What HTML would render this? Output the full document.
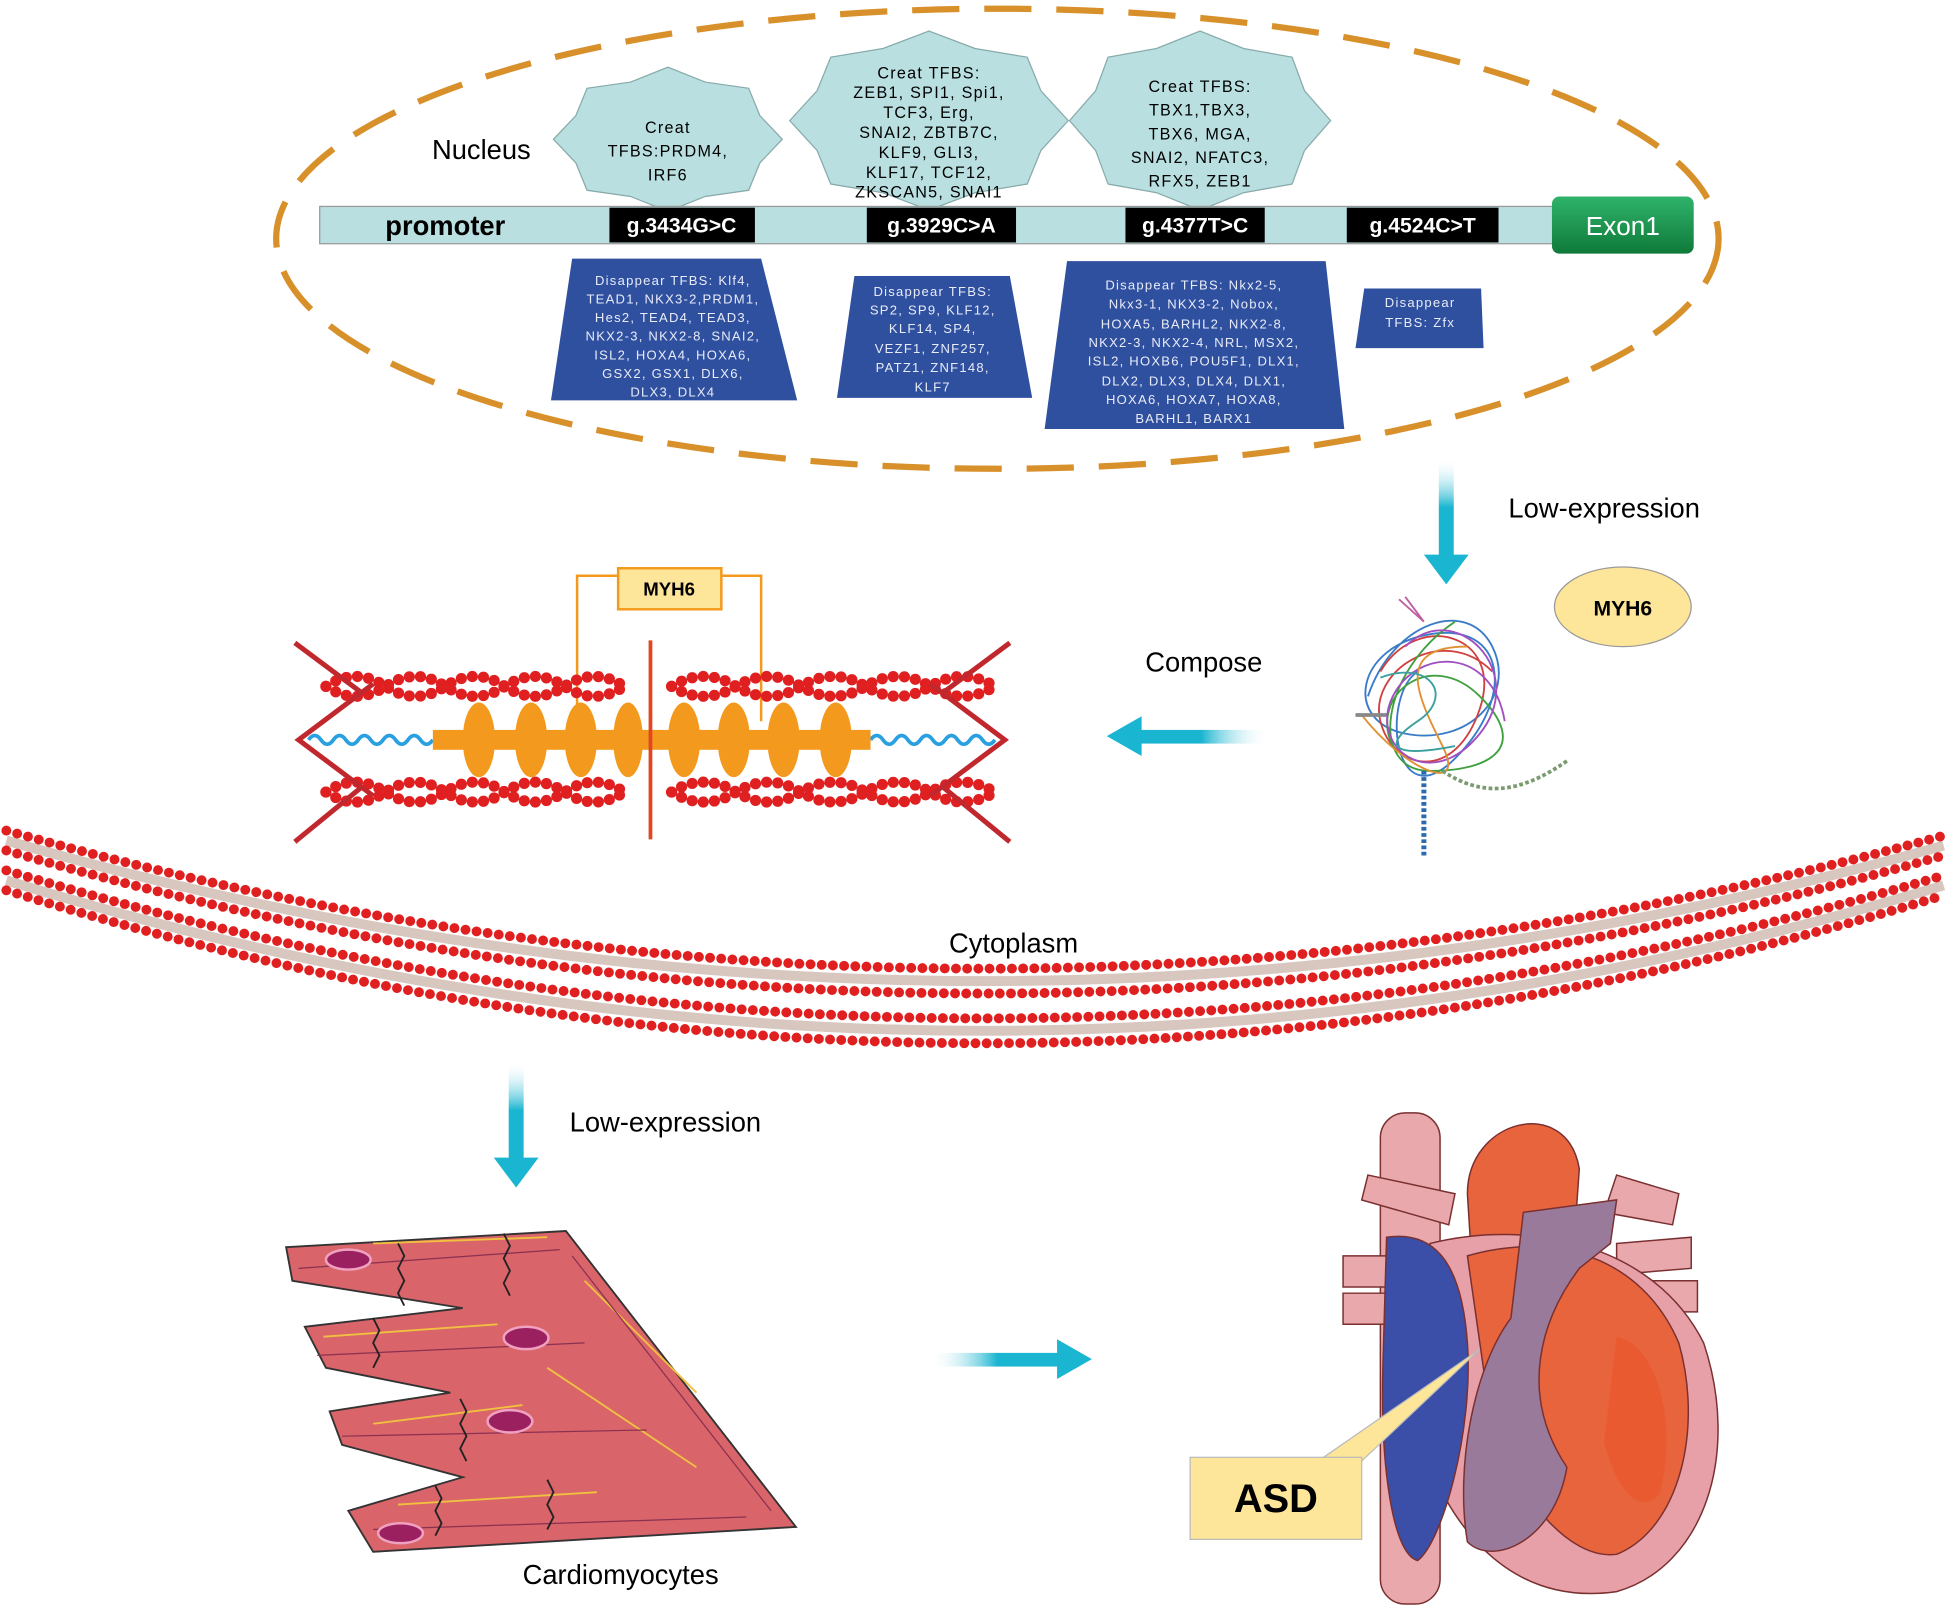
<!DOCTYPE html>
<html><head><meta charset="utf-8"><style>
html,body{margin:0;padding:0;background:#fff;}
svg{display:block;}
text{font-family:"Liberation Sans",Arial,sans-serif;}
</style></head><body>
<svg width="1950" height="1614" viewBox="0 0 1568 1298" xmlns="http://www.w3.org/2000/svg">
<defs>
<linearGradient id="gv" x1="0" y1="0" x2="0" y2="1"><stop offset="0" stop-color="#fff" stop-opacity="0"/><stop offset=".5" stop-color="#1ab5d0"/><stop offset="1" stop-color="#1ab5d0"/></linearGradient>
<linearGradient id="gh" x1="1" y1="0" x2="0" y2="0"><stop offset="0" stop-color="#fff" stop-opacity="0"/><stop offset=".5" stop-color="#1ab5d0"/><stop offset="1" stop-color="#1ab5d0"/></linearGradient>
<linearGradient id="ghr" x1="0" y1="0" x2="1" y2="0"><stop offset="0" stop-color="#fff" stop-opacity="0"/><stop offset=".5" stop-color="#1ab5d0"/><stop offset="1" stop-color="#1ab5d0"/></linearGradient>
<linearGradient id="gex" x1="0" y1="0" x2="0" y2="1"><stop offset="0" stop-color="#2fb36a"/><stop offset="1" stop-color="#0f7a3a"/></linearGradient>
</defs>

<!-- nucleus -->
<ellipse cx="802" cy="192" rx="580" ry="185" fill="none" stroke="#d8902a" stroke-width="5" stroke-dasharray="38 20"/>
<text x="387" y="128" font-size="22" text-anchor="middle">Nucleus</text>

<!-- stars -->
<g fill="#b9dfe0" stroke="#8aa" stroke-width="1">
<polygon points="629,112 611,131 602,153 567,158 537,170 507,158 472,153 463,131 445,112 463,93 472,71 507,66 537,54 567,66 602,71 611,93"/>
<polygon points="859,97 837,121 826,148 784,155 747,169 710,155 668,148 657,121 635,97 657,73 668,46 710,39 747,25 784,39 826,46 837,73"/>
<polygon points="1070,97 1049,121 1039,148 1000,155 965,169 930,155 891,148 881,121 860,97 881,73 891,46 930,39 965,25 1000,39 1039,46 1049,73"/>
</g>
<g font-size="13" text-anchor="middle" letter-spacing="1">
<text x="537" y="107">Creat</text><text x="537" y="126">TFBS:PRDM4,</text><text x="537" y="145">IRF6</text>
<text x="747" y="63">Creat TFBS:</text><text x="747" y="79">ZEB1, SPI1, Spi1,</text><text x="747" y="95">TCF3, Erg,</text><text x="747" y="111">SNAI2, ZBTB7C,</text><text x="747" y="127">KLF9, GLI3,</text><text x="747" y="143">KLF17, TCF12,</text><text x="747" y="159">ZKSCAN5, SNAI1</text>
<text x="965" y="74">Creat TFBS:</text><text x="965" y="93">TBX1,TBX3,</text><text x="965" y="112">TBX6, MGA,</text><text x="965" y="131">SNAI2, NFATC3,</text><text x="965" y="150">RFX5, ZEB1</text>
</g>

<!-- promoter bar -->
<rect x="257" y="166" width="993" height="30" fill="#b9dfe0" stroke="#999"/>
<text x="358" y="189" font-size="22" font-weight="bold" text-anchor="middle">promoter</text>
<g fill="#000"><rect x="490" y="167" width="117" height="28"/><rect x="697" y="167" width="120" height="28"/><rect x="905" y="167" width="112" height="28"/><rect x="1083" y="167" width="122" height="28"/></g>
<g fill="#fff" font-size="17" font-weight="bold" text-anchor="middle">
<text x="548" y="187">g.3434G&gt;C</text><text x="757" y="187">g.3929C&gt;A</text><text x="961" y="187">g.4377T&gt;C</text><text x="1144" y="187">g.4524C&gt;T</text></g>
<rect x="1248" y="158" width="114" height="46" rx="6" fill="url(#gex)"/>
<text x="1305" y="189" font-size="21" fill="#fff" text-anchor="middle">Exon1</text>

<!-- trapezoids -->
<g fill="#2f4f9f">
<polygon points="460,208 612,208 641,322 443,322"/>
<polygon points="687,222 812,222 830,320 673,320"/>
<polygon points="858,210 1066,210 1081,345 840,345"/>
<polygon points="1097,232 1191,232 1193,280 1090,280"/>
</g>
<g fill="#e8ecf8" font-size="10.5" text-anchor="middle" letter-spacing="1">
<text x="541" y="229">Disappear TFBS: Klf4,</text><text x="541" y="244">TEAD1, NKX3-2,PRDM1,</text><text x="541" y="259">Hes2, TEAD4, TEAD3,</text><text x="541" y="274">NKX2-3, NKX2-8, SNAI2,</text><text x="541" y="289">ISL2, HOXA4, HOXA6,</text><text x="541" y="304">GSX2, GSX1, DLX6,</text><text x="541" y="319">DLX3, DLX4</text>
<text x="750" y="238">Disappear TFBS:</text><text x="750" y="253">SP2, SP9, KLF12,</text><text x="750" y="268">KLF14, SP4,</text><text x="750" y="284">VEZF1, ZNF257,</text><text x="750" y="299">PATZ1, ZNF148,</text><text x="750" y="315">KLF7</text>
<text x="960" y="233">Disappear TFBS: Nkx2-5,</text><text x="960" y="248">Nkx3-1, NKX3-2, Nobox,</text><text x="960" y="264">HOXA5, BARHL2, NKX2-8,</text><text x="960" y="279">NKX2-3, NKX2-4, NRL, MSX2,</text><text x="960" y="294">ISL2, HOXB6, POU5F1, DLX1,</text><text x="960" y="310">DLX2, DLX3, DLX4, DLX1,</text><text x="960" y="325">HOXA6, HOXA7, HOXA8,</text><text x="960" y="340">BARHL1, BARX1</text>
<text x="1142" y="247">Disappear</text><text x="1142" y="263">TFBS: Zfx</text>
</g>

<!-- arrow down 1 -->
<rect x="1157" y="368" width="12" height="80" fill="url(#gv)"/>
<polygon points="1145,446 1181,446 1163,470" fill="#1ab5d0"/>
<text x="1290" y="416" font-size="22" text-anchor="middle">Low-expression</text>
<ellipse cx="1305" cy="488" rx="55" ry="32" fill="#fde59a" stroke="#999"/>
<text x="1305" y="495" font-size="17" font-weight="bold" text-anchor="middle">MYH6</text>

<!-- protein -->
<g fill="none" stroke-width="1.5">
<path d="M1100,560 C1120,500 1180,480 1200,520 S1180,600 1130,590 S1090,520 1150,510 S1220,560 1170,610 S1110,560 1140,540" stroke="#3a7cc8"/>
<path d="M1110,540 C1140,490 1210,510 1190,570 S1120,620 1110,580 S1160,500 1200,540" stroke="#d04040"/>
<path d="M1120,600 C1100,560 1150,520 1190,560 S1200,620 1150,620 S1110,540 1170,500" stroke="#40a040"/>
<path d="M1130,520 C1170,480 1230,540 1190,590 S1100,600 1120,560 S1200,520 1210,580" stroke="#a050c0"/>
<path d="M1095,575 C1130,620 1180,640 1160,600 S1120,520 1180,520" stroke="#e09030"/>
<path d="M1110,545 C1150,530 1170,560 1140,580 S1120,610 1170,600" stroke="#3aa0a0"/>
<path d="M1130,480 L1145,500 M1125,482 l20,18" stroke="#c060a0"/>
<path d="M1145,620 L1145,690" stroke="#2a6ab0" stroke-width="4" stroke-dasharray="3 2"/>
<path d="M1160,620 C1190,640 1220,640 1260,612" stroke="#7a9a70" stroke-width="3" stroke-dasharray="3 2"/>
<path d="M1090,575 l25,0" stroke="#888" stroke-width="3"/>
</g>

<!-- compose arrow -->
<text x="968" y="540" font-size="22" text-anchor="middle">Compose</text>
<rect x="912" y="587" width="108" height="11" fill="url(#gh)"/>
<polygon points="890,592 918,576 918,608" fill="#1ab5d0"/>

<!-- sarcomere -->
<path d="M464,580 V463 H497 M580,463 H612 V580" fill="none" stroke="#f39a1e" stroke-width="2"/>
<rect x="497" y="457" width="83" height="33" fill="#fde59a" stroke="#f39a1e" stroke-width="2"/>
<text x="538" y="479" font-size="15" font-weight="bold" text-anchor="middle">MYH6</text>
<g fill="none" stroke="#2aa0e0" stroke-width="3">
<path d="M248,595 q5,-7 10,0 t10,0 t10,0 t10,0 t10,0 t10,0 t10,0 t10,0 t10,0 t10,0"/>
<path d="M700,595 q5,-7 10,0 t10,0 t10,0 t10,0 t10,0 t10,0 t10,0 t10,0 t10,0 t10,0"/>
</g>
<g fill="none" stroke="#e02020" stroke-width="9" stroke-linecap="round" stroke-dasharray="0 9">
<path d="M262,552 q24,-16 48,0 t48,0 t48,0 t48,0 t48,0"/>
<path d="M262,552 q24,16 48,0 t48,0 t48,0 t48,0 t48,0"/>
<path d="M540,552 q26,-16 52,0 t52,0 t52,0 t52,0 t52,0"/>
<path d="M540,552 q26,16 52,0 t52,0 t52,0 t52,0 t52,0"/>
<path d="M262,637 q24,-16 48,0 t48,0 t48,0 t48,0 t48,0"/>
<path d="M262,637 q24,16 48,0 t48,0 t48,0 t48,0 t48,0"/>
<path d="M540,637 q26,-16 52,0 t52,0 t52,0 t52,0 t52,0"/>
<path d="M540,637 q26,16 52,0 t52,0 t52,0 t52,0 t52,0"/>
</g>
<rect x="348" y="587" width="352" height="16" fill="#f39a1e"/>
<g fill="#f39a1e">
<ellipse cx="385" cy="595" rx="13" ry="30"/><ellipse cx="427" cy="595" rx="13" ry="30"/><ellipse cx="467" cy="595" rx="13" ry="30"/><ellipse cx="505" cy="595" rx="12" ry="30"/>
<ellipse cx="550" cy="595" rx="13" ry="30"/><ellipse cx="590" cy="595" rx="13" ry="30"/><ellipse cx="630" cy="595" rx="13" ry="30"/><ellipse cx="672" cy="595" rx="13" ry="30"/>
</g>
<line x1="523" y1="515" x2="523" y2="675" stroke="#e2451f" stroke-width="3"/>
<g fill="none" stroke="#c0282d" stroke-width="4">
<polyline points="300,550 240,595 300,640"/><line x1="237" y1="517" x2="292" y2="558"/><line x1="237" y1="677" x2="292" y2="632"/>
<polyline points="748,550 808,595 748,640"/><line x1="812" y1="517" x2="757" y2="558"/><line x1="812" y1="677" x2="757" y2="632"/>
</g>

<!-- membrane -->
<g fill="none">
<path d="M5,676 Q785,900 1563,680" stroke="#b09080" stroke-width="8" stroke-opacity=".5"/>
<path d="M5,708 Q785,948 1563,712" stroke="#b09080" stroke-width="8" stroke-opacity=".5"/>
<g stroke="#e02020" stroke-width="8" stroke-linecap="round" stroke-dasharray="0 9">
<path d="M5,668 Q785,888 1563,672"/>
<path d="M5,684 Q785,912 1563,688"/>
<path d="M5,700 Q785,936 1563,704"/>
<path d="M5,716 Q785,960 1563,720"/>
</g></g>
<text x="815" y="766" font-size="22" text-anchor="middle">Cytoplasm</text>

<!-- arrow down 2 -->
<rect x="409" y="853" width="12" height="80" fill="url(#gv)"/>
<polygon points="397,931 433,931 415,955" fill="#1ab5d0"/>
<text x="535" y="910" font-size="22" text-anchor="middle">Low-expression</text>

<!-- cardiomyocytes -->
<polygon points="230,1003 455,990 640,1228 300,1248 280,1215 372,1188 275,1162 265,1135 362,1120 262,1100 245,1067 372,1052 235,1030" fill="#d9646a" stroke="#333" stroke-width="1.5"/>
<g fill="none" stroke="#f0c040" stroke-width="1.5">
<path d="M300,1000 L440,995 M260,1075 L400,1065 M300,1145 L420,1130 M320,1210 L480,1200 M470,1030 L560,1120 M440,1100 L560,1180"/></g>
<g fill="none" stroke="#8a3050" stroke-width="1">
<path d="M240,1020 L450,1005 M255,1090 L470,1080 M275,1155 L520,1150 M300,1230 L600,1220 M460,1010 L620,1215"/></g>
<g fill="none" stroke="#222" stroke-width="1.5">
<path d="M320,1000 l5,10 -5,10 5,10 -5,10 5,10" /><path d="M405,992 l5,10 -5,10 5,10 -5,10 5,10"/><path d="M300,1060 l5,10 -5,10 5,10 -5,10"/><path d="M370,1125 l5,10 -5,10 5,10 -5,10 5,10"/><path d="M440,1190 l5,10 -5,10 5,10 -5,10"/><path d="M350,1195 l5,10 -5,10 5,10 -5,10"/></g>
<g fill="#9a2060" stroke="#f0a0c0" stroke-width="2">
<ellipse cx="280" cy="1013" rx="18" ry="8"/><ellipse cx="423" cy="1076" rx="18" ry="9"/><ellipse cx="410" cy="1143" rx="18" ry="9"/><ellipse cx="322" cy="1233" rx="18" ry="8"/></g>
<text x="499" y="1274" font-size="22" text-anchor="middle">Cardiomyocytes</text>

<!-- arrow right -->
<rect x="748" y="1088" width="108" height="11" fill="url(#ghr)"/>
<polygon points="878,1093 850,1077 850,1109" fill="#1ab5d0"/>

<!-- heart -->
<g stroke="#7a3030" stroke-width="1.2">
<rect x="1110" y="895" width="48" height="395" rx="20" fill="#e8a8ac"/>
<path d="M1100,945 L1170,960 L1165,985 L1095,965Z" fill="#e8a8ac"/>
<path d="M1300,945 L1350,960 L1345,985 L1290,975Z" fill="#e8a8ac"/>
<path d="M1080,1010 L1120,1010 L1120,1035 L1080,1035Z M1080,1040 L1120,1040 L1120,1065 L1080,1065Z" fill="#e8a8ac"/>
<path d="M1300,1000 L1360,995 L1360,1020 L1300,1025Z M1300,1030 L1365,1030 L1365,1055 L1300,1055Z" fill="#e8a8ac"/>
<path d="M1180,960 C1180,900 1260,880 1270,940 L1265,1010 L1185,1040Z" fill="#e8643c"/>
<path d="M1150,1000 C1230,980 1330,1000 1370,1080 C1400,1170 1370,1260 1300,1280 C1230,1290 1180,1250 1150,1180Z" fill="#e8a0a8"/>
<path d="M1180,1010 C1250,990 1320,1010 1350,1080 C1370,1150 1350,1230 1300,1250 C1260,1255 1220,1200 1200,1150Z" fill="#e8643c"/>
<path d="M1115,995 C1150,990 1175,1010 1180,1080 C1185,1150 1160,1240 1140,1255 C1120,1250 1110,1180 1112,1100Z" fill="#3c4fa8"/>
<path d="M1225,975 L1300,965 L1295,1000 L1270,1020 C1240,1060 1220,1120 1260,1180 C1250,1240 1200,1260 1180,1240 C1170,1180 1185,1100 1215,1060Z" fill="#9a7a9a"/>
<path d="M1300,1075 C1330,1080 1350,1140 1335,1200 C1320,1220 1300,1200 1290,1160Z" fill="#ea5a30" stroke="none"/>
</g>
<polygon points="1060,1175 1095,1175 1190,1085" fill="#fde59a" stroke="#bbb"/>
<rect x="957" y="1172" width="138" height="66" fill="#fde59a" stroke="#bbb"/>
<text x="1026" y="1216" font-size="32" font-weight="bold" text-anchor="middle">ASD</text>
</svg>
</body></html>
